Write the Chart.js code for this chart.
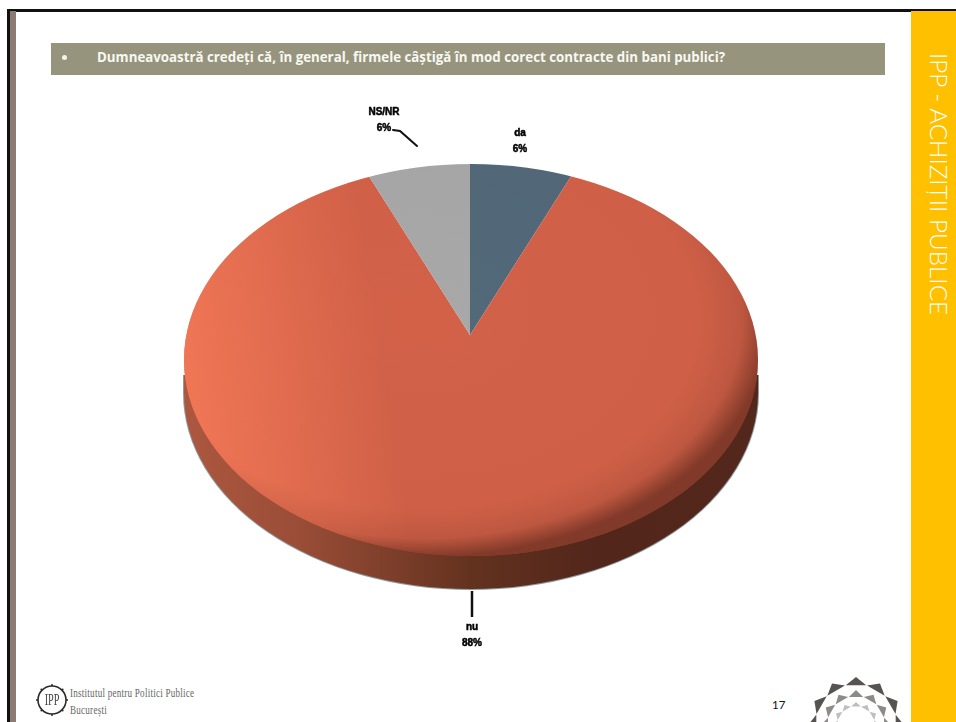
<!DOCTYPE html>
<html>
<head>
<meta charset="utf-8">
<script src="https://cdn.jsdelivr.net/npm/chart.js@4/dist/chart.umd.min.js"></script>
<style>
    html, body { margin: 0; padding: 0; background: #fff; }
    #page { position: relative; width: 956px; height: 722px; overflow: hidden; }
    #page div, #chart { position: absolute; }
    #chart { left: 0; top: 0; }
    #topline { left: 7px; top: 9px; width: 949px; height: 2.5px; background: #111; }
    #leftline { left: 7px; top: 9px; width: 3px; height: 713px; background: #111; }
    #leftband { left: 10px; top: 11px; width: 6px; height: 711px; background: #8b7b72; }
    #side { left: 911px; top: 11px; width: 45px; height: 711px; background: #ffc000; }
    #sidetext { left: 924px; top: 53px; writing-mode: vertical-rl; font: 300 24.3px Lato, sans-serif;
        color: #fff; white-space: nowrap; line-height: 30px; }
    #head { left: 51px; top: 43px; width: 834px; height: 32px; background: #97947e; }
    #bullet { left: 62px; top: 55px; width: 5px; height: 5px; border-radius: 50%; background: #f4f4ee; }
    #question { left: 97px; top: 48px; font: bold 13.3px "Open Sans", sans-serif; color: #f8f8f2; white-space: nowrap; }
    #pageno { left: 772px; top: 698px; font: 11.5px Lato, sans-serif; color: #111; }
    #org1, #org2 { left: 70px; font: 11.5px "Liberation Serif", serif; color: #666; white-space: nowrap;
        transform: scaleX(0.79); transform-origin: left top; letter-spacing: .3px; }
    #org1 { top: 687px; }
    #org2 { top: 704px; }
</style>
</head>
<body>
<div id="page">
    <div id="topline"></div>
    <div id="leftline"></div>
    <div id="leftband"></div>
    <div id="side"></div>
    <div id="sidetext">IPP - ACHIZIȚII PUBLICE</div>
    <div id="head"></div>
    <div id="bullet"></div>
    <div id="question">Dumneavoastră credeți că, în general, firmele câștigă în mod corect contracte din bani publici?</div>
    <div id="pageno">17</div>
    <div id="org1">Institutul pentru Politici Publice</div>
    <div id="org2">București</div>
    <canvas id="chart" width="956" height="722"></canvas>
</div>
<script>
const categories = ['da', 'nu', 'NS/NR'];
const values = [6, 88, 6];
const colors = ['#52697a', '#d26148', '#a8a8a8'];

// the slices meet above the middle of the disc, so the pie is squashed around its own
// centre and then cut to the outline of the disc
const squash = 0.622;
const disc = { x: 471, y: 360, rx: 287, ry: 196 };
const wallDrop = 33;

function ellipsePath(ctx, grow) {
    ctx.beginPath();
    ctx.ellipse(disc.x, disc.y, disc.rx + grow, disc.ry + grow, 0, 0, Math.PI * 2);
}

function wallPath(ctx, grow) {
    const y = disc.y + wallDrop;
    ctx.beginPath();
    ctx.moveTo(disc.x - disc.rx - grow, 375);
    ctx.lineTo(disc.x - disc.rx - grow, y);
    ctx.ellipse(disc.x, y, disc.rx + grow, disc.ry + grow, 0, Math.PI, 0, true);
    ctx.lineTo(disc.x + disc.rx + grow, 375);
    ctx.closePath();
}

const discPlugin = {
    id: 'disc',
    beforeDatasetsDraw(chart) {
        const ctx = chart.ctx;
        const meta = chart.getDatasetMeta(0).data[0];

        // side of the disc
        ctx.save();
        ctx.fillStyle = '#8f9b9b';
        wallPath(ctx, 1);
        ctx.fill();
        const wall = ctx.createLinearGradient(184, 0, 758, 0);
        wall.addColorStop(0, '#ad573f');
        wall.addColorStop(0.2, '#9a4d37');
        wall.addColorStop(0.5, '#63321f');
        wall.addColorStop(0.72, '#52261b');
        wall.addColorStop(1, '#54271c');
        ctx.fillStyle = wall;
        wallPath(ctx, 0);
        ctx.fill();
        ctx.restore();

        ctx.save();
        ellipsePath(ctx, 0);
        ctx.clip();
        ctx.translate(meta.x, meta.y);
        ctx.scale(1, squash);
        ctx.translate(-meta.x, -meta.y);
    },
    afterDatasetsDraw(chart) {
        const ctx = chart.ctx;
        ctx.restore();

        // light from the left, falling off towards the lower right rim
        ctx.save();
        ellipsePath(ctx, 0);
        ctx.clip();
        const light = ctx.createLinearGradient(190, 430, 390, 400);
        light.addColorStop(0, 'rgba(255,128,92,0.75)');
        light.addColorStop(1, 'rgba(255,128,92,0)');
        ctx.fillStyle = light;
        ctx.fillRect(184, 160, 574, 400);

        ctx.translate(disc.x, disc.y);
        ctx.scale(1, disc.ry / disc.rx);
        const rim = ctx.createRadialGradient(-50, -60, 0, -50, -60, disc.rx + 62);
        rim.addColorStop(0, 'rgba(50,18,10,0)');
        rim.addColorStop(0.8, 'rgba(50,18,10,0.02)');
        rim.addColorStop(0.92, 'rgba(50,18,10,0.12)');
        rim.addColorStop(1, 'rgba(50,18,10,0.5)');
        ctx.fillStyle = rim;
        ctx.fillRect(-disc.rx - 5, -disc.rx - 5, disc.rx * 2 + 10, disc.rx * 2 + 10);
        ctx.restore();
    }
};

function drawEmblem(ctx) {
    const rings = [[48, 41, '#565350'], [35, 29, '#8d8b88'], [23, 19, '#c0bebc']];
    const cx = 856, cy = 725;
    rings.forEach((ring) => {
        for (let i = 0; i < 12; i++) {
            const a = (i / 12) * Math.PI * 2 - Math.PI / 2;
            const w = Math.PI / 12.5;
            ctx.beginPath();
            ctx.moveTo(cx + Math.cos(a) * ring[0], cy + Math.sin(a) * ring[0]);
            ctx.lineTo(cx + Math.cos(a + w) * ring[1], cy + Math.sin(a + w) * ring[1]);
            ctx.lineTo(cx + Math.cos(a - w) * ring[1], cy + Math.sin(a - w) * ring[1]);
            ctx.closePath();
            ctx.fillStyle = ring[2];
            ctx.fill();
        }
    });
}

function drawLogo(ctx) {
    const cx = 52, cy = 700;
    ctx.strokeStyle = '#2b2b2b';
    ctx.lineWidth = 1.6;
    ctx.beginPath();
    ctx.arc(cx, cy, 14, 0, Math.PI * 2);
    ctx.stroke();
    ctx.fillStyle = '#2b2b2b';
    for (let i = 0; i < 8; i++) {
        const a = (i / 8) * Math.PI * 2;
        ctx.beginPath();
        ctx.arc(cx + Math.cos(a) * 15, cy + Math.sin(a) * 15, 1, 0, Math.PI * 2);
        ctx.fill();
    }
    ctx.save();
    ctx.translate(cx, cy + 1);
    ctx.scale(0.6, 1);
    ctx.font = '17px "Liberation Serif", serif';
    ctx.fillStyle = '#444';
    ctx.textAlign = 'center';
    ctx.textBaseline = 'middle';
    ctx.fillText('IPP', 0, 0);
    ctx.restore();
}

const labelPlugin = {
    id: 'sliceLabels',
    afterDraw(chart) {
        const ctx = chart.ctx;
        const spots = [[520, 133], [472, 627], [384, 112]];

        ctx.save();
        ctx.strokeStyle = '#111';
        ctx.lineCap = 'round';
        ctx.lineWidth = 2;
        ctx.beginPath();
        ctx.moveTo(393, 130);
        ctx.lineTo(400, 131);
        ctx.lineTo(417, 146);
        ctx.stroke();
        ctx.lineWidth = 2.5;
        ctx.lineCap = 'butt';
        ctx.beginPath();
        ctx.moveTo(472, 591);
        ctx.lineTo(472, 617);
        ctx.stroke();

        // the labels in the reference are smeared, so they get a soft heavy look
        ctx.filter = 'blur(0.6px)';
        ctx.fillStyle = '#000';
        ctx.strokeStyle = '#000';
        ctx.lineWidth = 0.5;
        ctx.font = 'bold 10px "Liberation Sans", sans-serif';
        ctx.textAlign = 'center';
        ctx.textBaseline = 'middle';
        categories.forEach((name, i) => {
            ctx.fillText(name, spots[i][0], spots[i][1]);
            ctx.strokeText(name, spots[i][0], spots[i][1]);
            ctx.fillText(values[i] + '%', spots[i][0], spots[i][1] + 16);
            ctx.strokeText(values[i] + '%', spots[i][0], spots[i][1] + 16);
        });
        ctx.filter = 'none';

        drawLogo(ctx);
        drawEmblem(ctx);
        ctx.restore();
    }
};

const ctx = document.getElementById('chart').getContext('2d');
const myChart = new Chart(ctx, {
    type: 'pie',
    data: {
        labels: categories,
        datasets: [{
            data: values,
            backgroundColor: colors,
            borderWidth: 0,
            clip: false
        }]
    },
    options: {
        responsive: false,
        animation: false,
        radius: 380,
        layout: { padding: { left: 0, right: 16, top: 0, bottom: 52 } },
        plugins: {
            legend: { display: false },
            tooltip: { enabled: false }
        }
    },
    plugins: [discPlugin, labelPlugin]
});
</script>
</body>
</html>
